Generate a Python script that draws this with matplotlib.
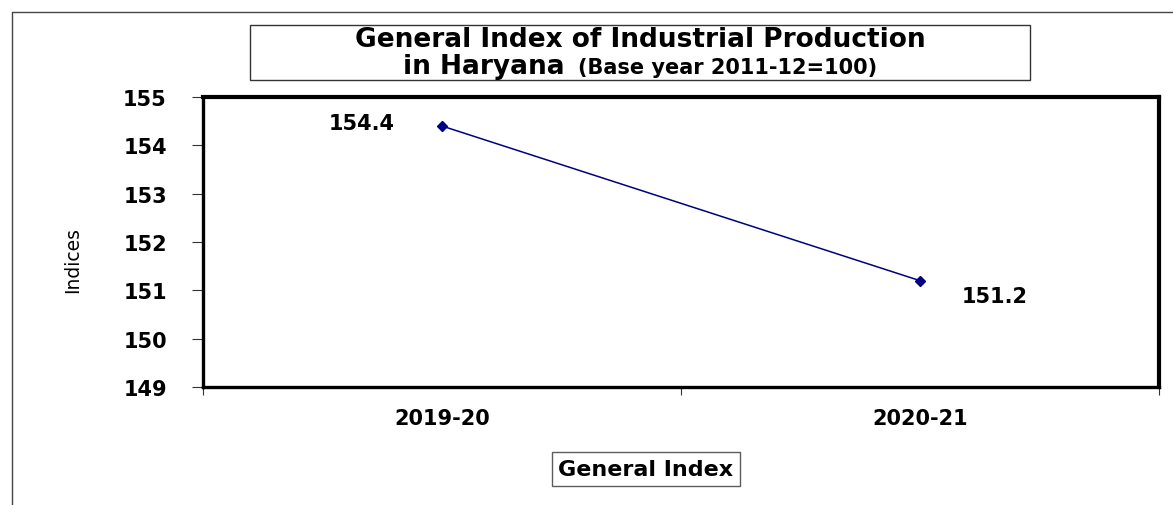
"""General Index of Industrial Production in Haryana - line chart."""

import matplotlib
matplotlib.use("Agg")
import matplotlib.pyplot as plt
from matplotlib.lines import Line2D
from matplotlib.patches import Rectangle
from matplotlib.ticker import FixedLocator

# data
years = ["2019-20", "2020-21"]
general_index = [154.4, 151.2]
series_name = "General Index"
y_ticks = [149, 150, 151, 152, 153, 154, 155]

W, H = 1173, 506
BOLD = dict(family="DejaVu Sans", weight="bold")

fig = plt.figure(figsize=(W / 100, H / 100), dpi=100)
fig.patch.set_facecolor("white")

# outer chart frame (only left/top visible in the crop)
fig.add_artist(Line2D([11.5 / W, 11.5 / W, 1.0], [0.0, 1 - 12.5 / H, 1 - 12.5 / H],
                      transform=fig.transFigure, color="#444444", lw=1.0))

ax = fig.add_axes([203 / W, 1 - 388 / H, (1159 - 203) / W, (388 - 98) / H])

x = list(range(len(years)))
line, = ax.plot(x, general_index, color="#000080", lw=1.1, marker="D",
                markersize=5, markerfacecolor="#000080", markeredgecolor="#000080")

# data labels
offsets = [(-58, 2), (54, -11)]
for xi, val, off in zip(x, general_index, offsets):
    ax.annotate(f"{val:.1f}", (xi, val), xytext=off, textcoords="offset points",
                ha="center", va="center", fontsize=15, **BOLD)

ax.set_xlim(-0.5, len(years) - 0.5)
ax.set_ylim(min(y_ticks), max(y_ticks))
ax.set_yticks(y_ticks)
ax.set_yticklabels([str(t) for t in y_ticks], fontsize=15, **BOLD)
ax.set_xticks(x)
ax.set_xticklabels(years, fontsize=15, **BOLD)
ax.xaxis.set_minor_locator(FixedLocator([i - 0.5 for i in range(len(years) + 1)]))
ax.tick_params(axis="x", which="major", length=0, pad=15)
ax.tick_params(axis="x", which="minor", direction="out", length=6, width=0.8, color="#333333")
ax.tick_params(axis="y", direction="out", length=8, width=0.8, color="#333333", pad=18)

for side in ["left", "bottom"]:
    ax.spines[side].set_linewidth(2.4)
for side in ["top", "right"]:
    ax.spines[side].set_linewidth(3.0)

ax.set_ylabel("Indices", fontsize=13.5, family="DejaVu Sans")
ax.yaxis.set_label_coords(-0.126, 0.44)

# legend
leg = fig.legend([line], [series_name], loc="center",
                 bbox_to_anchor=(646 / W, 1 - 470 / H), handlelength=0, handletextpad=0,
                 fancybox=False, frameon=True, borderpad=0.3,
                 prop=dict(size=16, **BOLD))
leg.legend_handles[0].set_visible(False)
leg.get_frame().set_edgecolor("#333333")
leg.get_frame().set_linewidth(1.0)

# title in a box
fig.text(640 / W, 1 - 40 / H, "General Index of Industrial Production",
         ha="center", va="center", fontsize=19, **BOLD)
t2a = fig.text(0, 1 - 67 / H, "in Haryana", ha="left", va="center",
               fontsize=19, **BOLD)
t2b = fig.text(0, 1 - 68 / H, "(Base year 2011-12=100)", ha="left", va="center",
               fontsize=15, **BOLD)

# centre the mixed-size second line under the first
fig.canvas.draw()
renderer = fig.canvas.get_renderer()
wa = t2a.get_window_extent(renderer).width
wb = t2b.get_window_extent(renderer).width
gap = 14
start = 640 - (wa + gap + wb) / 2
t2a.set_x(start / W)
t2b.set_x((start + wa + gap) / W)

fig.add_artist(Rectangle((250 / W, 1 - 81 / H), (1030 - 250) / W, (81 - 26) / H,
                         transform=fig.transFigure, fill=False,
                         edgecolor="#333333", lw=1.0))

fig.savefig("out.png", dpi=100)
plt.close(fig)
